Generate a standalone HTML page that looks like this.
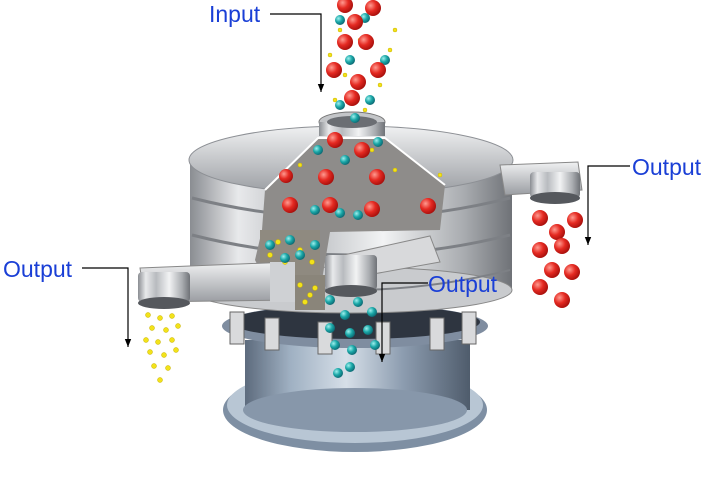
<!DOCTYPE html>
<html><head><meta charset="utf-8"><style>
html,body{margin:0;padding:0;background:#fff;width:720px;height:478px;overflow:hidden}
svg{display:block}
text{font-family:"Liberation Sans",sans-serif;fill:#1a3fd6;font-size:23px}
</style></head><body>
<svg width="720" height="478" viewBox="0 0 720 478" xmlns="http://www.w3.org/2000/svg">
<defs>
<linearGradient id="m" x1="0" x2="1" y1="0" y2="0">
<stop offset="0" stop-color="#8a8d92"/><stop offset="0.15" stop-color="#e8e9eb"/><stop offset="0.35" stop-color="#b8bbbf"/><stop offset="0.6" stop-color="#f2f3f4"/><stop offset="0.85" stop-color="#a9acb0"/><stop offset="1" stop-color="#6f7277"/></linearGradient>
<linearGradient id="b" x1="0" x2="1" y1="0" y2="0">
<stop offset="0" stop-color="#5d6b7d"/><stop offset="0.2" stop-color="#9fb0c2"/><stop offset="0.45" stop-color="#d6dfe8"/><stop offset="0.7" stop-color="#8d9db0"/><stop offset="1" stop-color="#4f5c6c"/></linearGradient>
<linearGradient id="v" x1="0" x2="0" y1="0" y2="1">
<stop offset="0" stop-color="#f0f1f2"/><stop offset="1" stop-color="#9a9da2"/></linearGradient>
<radialGradient id="r" cx="0.35" cy="0.35" r="0.7"><stop offset="0" stop-color="#ff9a90"/><stop offset="0.5" stop-color="#e52a22"/><stop offset="1" stop-color="#a50e0b"/></radialGradient>
<radialGradient id="t" cx="0.35" cy="0.35" r="0.7"><stop offset="0" stop-color="#9ff0ee"/><stop offset="0.5" stop-color="#1ba8a8"/><stop offset="1" stop-color="#0b6570"/></radialGradient>
<marker id="a" viewBox="0 0 10 10" refX="10" refY="5" markerWidth="8" markerHeight="8" markerUnits="userSpaceOnUse" orient="auto"><path d="M0 1 L10 5 L0 9 Z" fill="#000"/></marker>
</defs>

<!-- base -->
<ellipse cx="355" cy="410" rx="132" ry="42" fill="#7e8fa3"/>
<ellipse cx="355" cy="405" rx="128" ry="38" fill="#b8c6d4"/>
<rect x="245" y="340" width="225" height="70" fill="url(#b)"/>
<ellipse cx="355" cy="410" rx="112" ry="22" fill="#8797aa"/>
<ellipse cx="355" cy="326" rx="133" ry="22" fill="#7f8da0"/>
<ellipse cx="355" cy="322" rx="125" ry="17" fill="#2e3540"/>
<g fill="#d9dadc" stroke="#666" stroke-width="1">
<rect x="230" y="312" width="14" height="32"/><rect x="265" y="318" width="14" height="32"/><rect x="318" y="322" width="14" height="32"/><rect x="376" y="322" width="14" height="32"/><rect x="430" y="318" width="14" height="32"/><rect x="462" y="312" width="14" height="32"/>
</g>

<!-- body bands -->
<path d="M190 160 L512 160 L512 290 Q350 325 190 290 Z" fill="url(#m)"/>
<ellipse cx="351" cy="290" rx="161" ry="23" fill="#c9cbce" stroke="#888"/>
<path d="M192 235 Q350 275 510 235" fill="none" stroke="#7d8085" stroke-width="3"/>
<path d="M192 198 Q350 238 510 198" fill="none" stroke="#7d8085" stroke-width="3"/>
<path d="M192 270 Q350 310 510 270" fill="none" stroke="#7d8085" stroke-width="2"/>
<!-- lid -->
<ellipse cx="351" cy="160" rx="162" ry="34" fill="url(#v)" stroke="#8d9095"/>
<ellipse cx="352" cy="122" rx="33" ry="10" fill="#c3c5c8" stroke="#777"/>
<rect x="319" y="122" width="66" height="14" fill="url(#m)"/>
<ellipse cx="352" cy="122" rx="25" ry="6" fill="#6b6e73"/>

<!-- cutaway -->
<path d="M265 190 L318 138 L385 138 L445 185 L440 230 L330 232 L322 280 L275 300 L255 260 L262 230 Z" fill="#8e8c8a"/>
<path d="M265 190 L318 138 L385 138 L445 185" fill="none" stroke="#fff" stroke-width="2"/>
<rect x="260" y="230" width="60" height="45" fill="#8f8a80"/>
<rect x="295" y="275" width="30" height="35" fill="#8a857a"/>

<!-- right outlet -->
<path d="M500 165 L578 162 L582 190 L505 195 Z" fill="url(#v)" stroke="#888"/>
<rect x="530" y="172" width="50" height="26" rx="4" fill="url(#m)"/>
<ellipse cx="555" cy="198" rx="25" ry="6" fill="#55585d"/>
<!-- left outlet -->
<path d="M140 268 L290 262 L295 300 L145 302 Z" fill="url(#v)" stroke="#888"/>
<rect x="270" y="262" width="25" height="40" fill="#cfd1d4"/>
<rect x="138" y="272" width="52" height="30" rx="4" fill="url(#m)"/>
<ellipse cx="164" cy="303" rx="26" ry="6" fill="#55585d"/>
<!-- middle outlet -->
<path d="M330 258 L430 236 L440 262 L340 280 Z" fill="#d8d9db" stroke="#888"/>
<rect x="325" y="255" width="52" height="35" rx="4" fill="url(#m)"/>
<ellipse cx="351" cy="291" rx="26" ry="6" fill="#55585d"/>

<!-- yellow particles -->
<g fill="#f2e21a" stroke="#c9b200" stroke-width="0.5">
<circle cx="148" cy="315" r="2.5"/><circle cx="160" cy="318" r="2.5"/><circle cx="172" cy="316" r="2.5"/><circle cx="152" cy="328" r="2.5"/><circle cx="166" cy="330" r="2.5"/><circle cx="178" cy="326" r="2.5"/><circle cx="146" cy="340" r="2.5"/><circle cx="158" cy="342" r="2.5"/><circle cx="172" cy="340" r="2.5"/><circle cx="150" cy="352" r="2.5"/><circle cx="164" cy="355" r="2.5"/><circle cx="176" cy="350" r="2.5"/><circle cx="154" cy="366" r="2.5"/><circle cx="168" cy="368" r="2.5"/><circle cx="160" cy="380" r="2.5"/>
<circle cx="300" cy="285" r="2.5"/><circle cx="310" cy="295" r="2.5"/><circle cx="305" cy="302" r="2.5"/><circle cx="315" cy="288" r="2.5"/><circle cx="270" cy="255" r="2.5"/><circle cx="285" cy="262" r="2.5"/><circle cx="300" cy="250" r="2.5"/><circle cx="278" cy="242" r="2.5"/><circle cx="312" cy="262" r="2.5"/>
<circle cx="340" cy="30" r="2"/><circle cx="360" cy="40" r="2"/><circle cx="330" cy="55" r="2"/><circle cx="390" cy="50" r="2"/><circle cx="345" cy="75" r="2"/><circle cx="380" cy="85" r="2"/><circle cx="335" cy="100" r="2"/><circle cx="365" cy="110" r="2"/><circle cx="395" cy="30" r="2"/><circle cx="372" cy="150" r="2"/><circle cx="300" cy="165" r="2"/><circle cx="395" cy="170" r="2"/><circle cx="440" cy="175" r="2"/>
</g>
<!-- teal -->
<g fill="url(#t)">
<circle cx="340" cy="20" r="5"/><circle cx="365" cy="18" r="5"/><circle cx="350" cy="60" r="5"/><circle cx="385" cy="60" r="5"/><circle cx="340" cy="105" r="5"/><circle cx="370" cy="100" r="5"/><circle cx="355" cy="118" r="5"/><circle cx="318" cy="150" r="5"/><circle cx="345" cy="160" r="5"/><circle cx="378" cy="142" r="5"/>
<circle cx="315" cy="210" r="5"/><circle cx="340" cy="213" r="5"/><circle cx="358" cy="215" r="5"/><circle cx="270" cy="245" r="5"/><circle cx="290" cy="240" r="5"/><circle cx="300" cy="255" r="5"/><circle cx="315" cy="245" r="5"/><circle cx="285" cy="258" r="5"/>
<circle cx="330" cy="300" r="5"/><circle cx="358" cy="302" r="5"/><circle cx="345" cy="315" r="5"/><circle cx="372" cy="312" r="5"/><circle cx="330" cy="328" r="5"/><circle cx="350" cy="333" r="5"/><circle cx="368" cy="330" r="5"/><circle cx="335" cy="345" r="5"/><circle cx="352" cy="350" r="5"/><circle cx="375" cy="345" r="5"/><circle cx="338" cy="373" r="5"/><circle cx="350" cy="367" r="5"/>
</g>
<!-- red -->
<g fill="url(#r)">
<circle cx="345" cy="5" r="8"/><circle cx="373" cy="8" r="8"/><circle cx="355" cy="22" r="8"/><circle cx="345" cy="42" r="8"/><circle cx="366" cy="42" r="8"/><circle cx="378" cy="70" r="8"/><circle cx="334" cy="70" r="8"/><circle cx="358" cy="82" r="8"/><circle cx="352" cy="98" r="8"/>
<circle cx="335" cy="140" r="8"/><circle cx="362" cy="150" r="8"/><circle cx="286" cy="176" r="7"/><circle cx="326" cy="177" r="8"/><circle cx="377" cy="177" r="8"/><circle cx="290" cy="205" r="8"/><circle cx="330" cy="205" r="8"/><circle cx="372" cy="209" r="8"/><circle cx="428" cy="206" r="8"/>
<circle cx="540" cy="218" r="8"/><circle cx="575" cy="220" r="8"/><circle cx="557" cy="232" r="8"/><circle cx="540" cy="250" r="8"/><circle cx="562" cy="246" r="8"/><circle cx="552" cy="270" r="8"/><circle cx="572" cy="272" r="8"/><circle cx="540" cy="287" r="8"/><circle cx="562" cy="300" r="8"/>
</g>

<!-- labels -->
<g stroke="#000" stroke-width="1.2" fill="none">
<polyline points="270,14 321,14 321,92" marker-end="url(#a)"/>
<polyline points="630,166 588,166 588,245" marker-end="url(#a)"/>
<polyline points="82,268 128,268 128,347" marker-end="url(#a)"/>
<polyline points="428,283 382,283 382,362" marker-end="url(#a)"/>
</g>
<text x="209" y="22">Input</text>
<text x="632" y="175">Output</text>
<text x="3" y="277">Output</text>
<text x="428" y="292">Output</text>
</svg>
</body></html>
